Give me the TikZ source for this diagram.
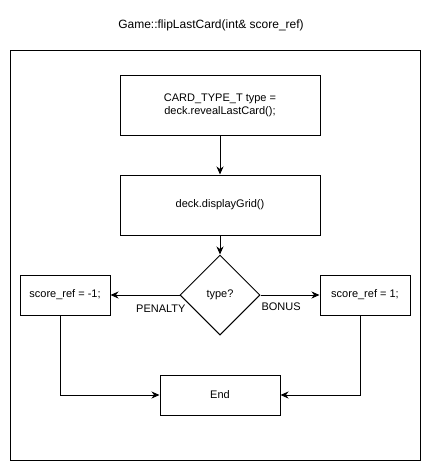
\documentclass[tikz,border=0pt]{standalone}
\usepackage{fontspec}
\setmainfont{Liberation Sans}
\usetikzlibrary{arrows.meta,shapes.geometric}

\begin{document}
\begin{tikzpicture}[x=1pt,y=-1pt,
  every node/.style={font=\fontsize{11}{13.2}\selectfont, text=black},
  block/.style={draw, line width=1pt, rectangle, inner sep=0pt, align=center},
  decision/.style={draw, line width=1pt, diamond, inner sep=0pt, minimum width=80pt, minimum height=80pt, aspect=1},
  flow/.style={draw, line width=1pt, -{Stealth[length=8pt,width=7pt,inset=2.5pt]}},
  edgelabel/.style={font=\fontsize{11}{13.2}\selectfont, inner sep=1pt},
  frame/.style={draw, line width=1pt}
]
\useasboundingbox (0,0) rectangle (431,471);

% title and enclosing frame
\node[font=\fontsize{12}{14}\selectfont] (title) at (211,25) {Game::flipLastCard(int\& score\_ref)};
\coordinate (frameTL) at (10.5,50.5);
\coordinate (frameBR) at (420,460);
\path[frame] (frameTL) rectangle (frameBR);

% flow steps
\node[block, minimum width=200pt, minimum height=60pt] (reveal) at (220,105)
  {CARD\_TYPE\_T type =\\deck.revealLastCard();};
\node[block, minimum width=200pt, minimum height=60pt] (grid) at (220,205)
  {deck.displayGrid()};
\node[decision] (kind) at (220,295) {type?};
\node[block, minimum width=90pt, minimum height=40pt] (penalty) at (65,295)
  {score\_ref = -1;};
\node[block, minimum width=90pt, minimum height=40pt] (bonus) at (365,295)
  {score\_ref = 1;};
\node[block, minimum width=120pt, minimum height=40pt] (finish) at (220,395)
  {End};

% connectors
\path[flow] (reveal.south) -- (grid.north);
\path[flow] (grid.south) -- (kind.north);
\path[flow] (kind.west) -- node[edgelabel, pos=0.27, yshift=-14pt] {PENALTY} (penalty.east);
\path[flow] (kind.east) -- node[edgelabel, pos=0.35, yshift=-12pt] {BONUS} (bonus.west);
\path[flow] ([xshift=-5pt]penalty.south) |- (finish.west);
\path[flow] ([xshift=-5pt]bonus.south) |- (finish.east);
\end{tikzpicture}
\end{document}
